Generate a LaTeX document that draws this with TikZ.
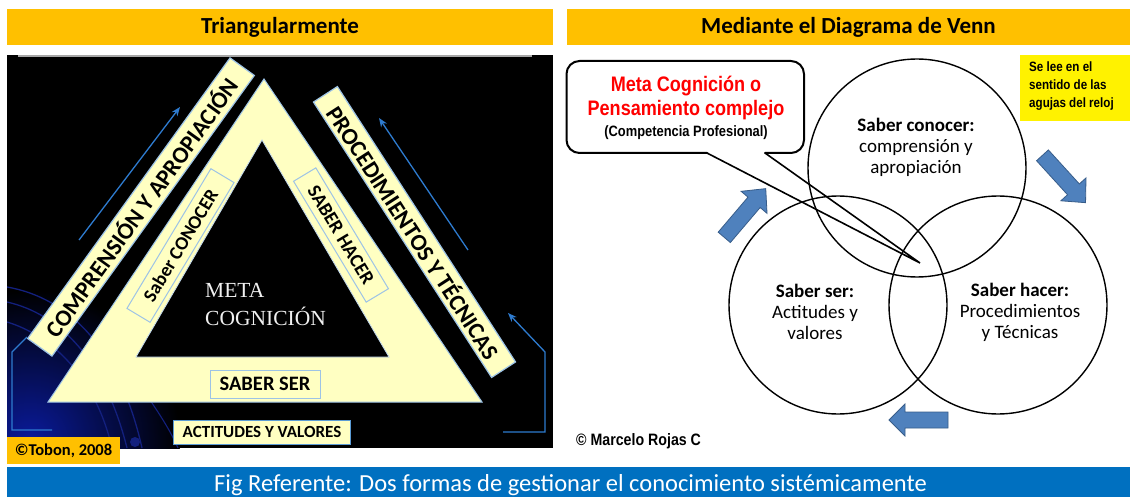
\documentclass[tikz,border=0pt]{standalone}
\usepackage{fontspec}
\setmainfont{Carlito}
\newfontfamily\arialf{Liberation Sans}
\newfontfamily\arialn[FakeStretch=0.86]{Liberation Sans}
\newfontfamily\timesf{Liberation Serif}
\usetikzlibrary{arrows.meta}
\definecolor{orangeh}{HTML}{FFC000}
\definecolor{bannerblue}{HTML}{0070C0}
\definecolor{paleyel}{HTML}{FFFFC2}
\definecolor{edgeblue}{HTML}{9DC3E6}
\definecolor{boxblue}{HTML}{5B9BD5}
\definecolor{arrowblue}{HTML}{2E7BCF}
\definecolor{vennarrow}{HTML}{4F81BD}
\definecolor{vennarrowedge}{HTML}{385D8A}
\definecolor{callred}{HTML}{FF0000}
\definecolor{swirl}{HTML}{13207E}
\definecolor{swirlglow}{HTML}{0A1A9A}
\begin{document}
\begin{tikzpicture}[x=1pt,y=-1pt,
  header/.style={fill=orangeh, inner sep=0pt, font=\bfseries\fontsize{23}{26}\selectfont},
  strip/.style={draw=edgeblue, line width=1.2pt, fill=paleyel, inner sep=0pt},
  labelbox/.style={draw=edgeblue, line width=1pt, fill=paleyel, inner sep=0pt},
  guide/.style={draw=arrowblue, line width=1.3pt},
  guidetip/.style={-{Stealth[length=9pt,width=7pt]}},
  venn/.style={circle, draw=black, line width=1.4pt, minimum size=218pt, inner sep=0pt},
  vtext/.style={align=center, inner sep=0pt, font=\fontsize{19}{21}\selectfont},
  blockarrow/.style={fill=vennarrow, draw=vennarrowedge, line width=0.8pt},
  calltext/.style={anchor=base, inner sep=0pt, text=callred, font=\arialn\bfseries\fontsize{21}{22}\selectfont}
]
\useasboundingbox (0,0) rectangle (1130,497);
\fill[white] (0,0) rectangle (1130,497);

% headers
\node[header, minimum width=546, minimum height=36] (h1) at (280,27) {Triangularmente};
\node[header, minimum width=563, minimum height=36] (h2) at (848.5,27) {Mediante el Diagrama de Venn};

% ---------- left panel ----------
\fill[black] (7,55) rectangle (553,448);
\begin{scope}
  \clip (7,55) rectangle (553,448);
  \shade[inner color=swirlglow, outer color=black] (30,440) circle (150);
  \draw[swirl, line width=1.3pt] (7,287) .. controls (70,298) and (120,350) .. (142,448);
  \draw[swirl, line width=1.3pt] (7,302) .. controls (60,314) and (105,360) .. (127,448);
  \draw[swirl, line width=1.3pt] (7,322) .. controls (50,335) and (95,375) .. (112,448);
  \draw[swirl, line width=1.1pt] (150,400) .. controls (160,415) and (170,430) .. (178,448);
  \fill[swirl] (135,442) circle (5);
\end{scope}
\draw[gray!70, line width=2pt] (18,56) -- (532,56);

% left bracket (goes under the strip)
\coordinate (bl1) at (52,430);
\coordinate (bl2) at (12,430);
\coordinate (bl3) at (12,352);
\coordinate (bl4) at (27,337);
\draw[guide] (bl1) -- (bl2) -- (bl3) -- (bl4);

% triangle
\filldraw[fill=paleyel, draw=edgeblue, line width=1pt] (264,79) -- (48,402) -- (482,402) -- cycle;
\filldraw[fill=black, draw=edgeblue!60, line width=0.8pt] (262,140) -- (136,357) -- (389,357) -- cycle;

% strips
\node[strip, rotate=54.2, minimum width=346, minimum height=30,
      font=\bfseries\fontsize{23.5}{24}\selectfont] (compr) at (141,207) {COMPRENSIÓN Y APROPIACIÓN};
\node[strip, rotate=-57.1, minimum width=328, minimum height=28.5,
      font=\bfseries\fontsize{23.5}{24}\selectfont] (proc) at (414.5,232) {PROCEDIMIENTOS Y TÉCNICAS};

% boxes in triangle
\node[labelbox, rotate=59, minimum width=163, minimum height=27,
      font=\bfseries\fontsize{19}{20}\selectfont] (sconocer) at (180.5,245.5) {Saber CONOCER};
\node[labelbox, rotate=-59, minimum width=141, minimum height=26,
      font=\bfseries\fontsize{19.5}{20}\selectfont] (shacer) at (341,235) {SABER HACER};
\node[labelbox, minimum width=110, minimum height=28,
      font=\bfseries\fontsize{20.5}{21}\selectfont] (sser) at (265,384) {SABER SER};
\node[labelbox, draw=boxblue, minimum width=177, minimum height=24,
      font=\bfseries\fontsize{17}{18}\selectfont] (actitudes) at (262,432) {ACTITUDES Y VALORES};

% META COGNICION
\node[anchor=base west, inner sep=0pt, text=white!88!gray,
      font=\timesf\fontsize{21.5}{22}\selectfont] (meta1) at (205,298) {META};
\node[anchor=base west, inner sep=0pt, text=white!88!gray,
      font=\timesf\fontsize{21.5}{22}\selectfont] (meta2) at (205,325) {COGNICIÓN};

% guide arrows
\coordinate (la1) at (79,240);
\coordinate (la2) at (180,107);
\draw[guide, guidetip] (la1) -- (la2);
\coordinate (ra1) at (468,250);
\coordinate (ra2) at (379,118);
\draw[guide, guidetip] (ra1) -- (ra2);
\coordinate (br1) at (503,432);
\coordinate (br2) at (545,432);
\coordinate (br3) at (545,352);
\coordinate (br4) at (508,313);
\draw[guide, guidetip] (br1) -- (br2) -- (br3) -- (br4);

% Tobon
\node[fill=orangeh, minimum width=113, minimum height=27, inner sep=0pt,
      font=\bfseries\fontsize{16.5}{17}\selectfont] (tobon) at (63.5,450.5) {©Tobon, 2008};

% ---------- right panel ----------
\node[venn] (cConocer) at (917,168) {};
\node[venn] (cSer) at (838,305) {};
\node[venn] (cHacer) at (998,305) {};
\node[vtext] (tConocer) at (916,147) {\textbf{Saber conocer:}\\comprensión y\\apropiación};
\node[vtext] (tSer) at (815,312) {\textbf{Saber ser:}\\Actitudes y\\valores};
\node[vtext] (tHacer) at (1020,312) {\textbf{Saber hacer:}\\Procedimientos\\y Técnicas};

% callout
\fill[white, rounded corners=13pt] (566.5,61) rectangle (804,153);
\coordinate (tip) at (920,263);
\coordinate (pa) at (707,153);
\coordinate (pb) at (765,153);
\draw[line width=2pt, rounded corners=13pt, line cap=round] (pa) -- (566.5,153) -- (566.5,61) -- (804,61) -- (804,153) -- (pb);
\draw[line width=1.6pt, line cap=round, line join=miter] (pa) -- (tip) -- (pb);
\node[calltext] (ct1) at (686,92) {Meta Cognición o};
\node[calltext] (ct2) at (686,116) {Pensamiento complejo};
\node[anchor=base, inner sep=0pt, font=\arialn\bfseries\fontsize{15}{16}\selectfont] (ct3) at (686,137) {(Competencia Profesional)};

% yellow note
\node[fill=yellow, minimum width=110, minimum height=66, inner sep=0pt] (note) at (1075,88) {};
\node[anchor=north west, align=left, inner sep=0pt,
      font=\arialn\bfseries\fontsize{13.5}{18}\selectfont] (notetext) at (1029,62) {Se lee en el\\sentido de las\\agujas del reloj};

% block arrows
\begin{scope}[shift={(745,213)}, rotate=49.6]
  \filldraw[blockarrow] (-32,-8) -- (14,-8) -- (14,-17) -- (32,0) -- (14,17) -- (14,8) -- (-32,8) -- cycle;
\end{scope}
\begin{scope}[shift={(1064,179)}, rotate=-47.7]
  \filldraw[blockarrow] (-32,-8) -- (14,-8) -- (14,-17) -- (32,0) -- (14,17) -- (14,8) -- (-32,8) -- cycle;
\end{scope}
\begin{scope}[shift={(918.5,420)}, rotate=180]
  \filldraw[blockarrow] (-29.5,-8) -- (13.5,-8) -- (13.5,-16) -- (29.5,0) -- (13.5,16) -- (13.5,8) -- (-29.5,8) -- cycle;
\end{scope}

\node[anchor=base west, inner sep=0pt, font=\arialn\bfseries\fontsize{16.5}{17}\selectfont] (marcelo) at (576,445) {© Marcelo Rojas C};

% bottom banner
\fill[bannerblue] (7,467) rectangle (1130,497);
\node[anchor=base, inner sep=0pt, text=white, font=\fontsize{24.5}{26}\selectfont] (caption) at (570.5,491) {Fig Referente: Dos formas de gestionar el conocimiento sistémicamente};
\end{tikzpicture}
\end{document}
